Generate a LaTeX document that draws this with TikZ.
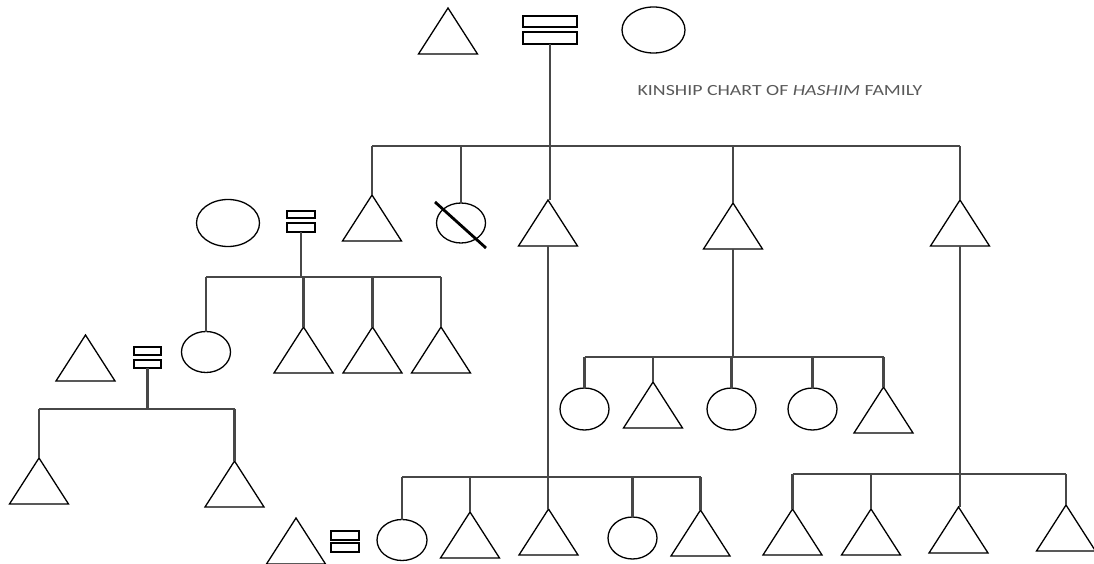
\documentclass[tikz,border=0pt]{standalone}
\usepackage{fontspec}
\newfontfamily\labelfont{Carlito}
\usetikzlibrary{shapes.geometric}
\tikzset{
  tri/.style={draw=black, line width=1.3pt, isosceles triangle, isosceles triangle stretches,
    shape border rotate=90, minimum width=59pt, minimum height=46pt, inner sep=0pt, outer sep=0pt, anchor=apex},
  circ/.style={draw=black, line width=1.3pt, ellipse, minimum width=49pt, minimum height=41pt, inner sep=0pt, outer sep=0pt},
  bigcirc/.style={circ, minimum width=63pt, minimum height=46pt},
  eqbar/.style={draw=black, line width=2.1pt, rectangle, inner sep=0pt, outer sep=0pt},
  conn/.style={draw=black!72, line width=2.8pt},
  slash/.style={draw=black, line width=2.8pt}
}
\begin{document}
\begin{tikzpicture}[x=1pt,y=-1pt]
\useasboundingbox (0,0) rectangle (1094,564);
% generation 1
\node[tri] (tA) at (448,8) {};
\node[eqbar, minimum width=54pt, minimum height=11pt] (eq0a) at (550,21.5) {};
\node[eqbar, minimum width=54pt, minimum height=12pt] (eq0b) at (550,38) {};
\node[bigcirc] (c0) at (653.5,30) {};
\node[font=\labelfont\fontsize{15.5}{18}\selectfont, text=black!65, xscale=1.28] (title) at (780,91) {KINSHIP CHART OF \textit{HASHIM} FAMILY};
\coordinate (b1) at (0,146);
% generation 2
\node[tri] (g1) at (372,195) {};
\node[circ, minimum height=40pt] (g2) at (461,223) {};
\coordinate (s1) at (435,202);
\coordinate (s2) at (486,248);
\node[tri] (g3) at (548,200) {};
\node[tri] (g4) at (733,203) {};
\node[tri] (g5) at (960,200) {};
% left family
\node[bigcirc, minimum height=47pt] (lw) at (228,223) {};
\node[eqbar, minimum width=28pt, minimum height=7.5pt] (eq1a) at (301,214.5) {};
\node[eqbar, minimum width=28pt, minimum height=9pt] (eq1b) at (301,227.5) {};
\coordinate (b2) at (0,277);
\node[circ] (l1) at (206,352) {};
\node[tri] (l2) at (303.5,327) {};
\node[tri] (l3) at (372.5,327) {};
\node[tri] (l4) at (441,327) {};
% far left family
\node[tri] (ft) at (85.5,335) {};
\node[eqbar, minimum width=27pt, minimum height=8pt] (eq2a) at (147.5,351) {};
\node[eqbar, minimum width=27pt, minimum height=8pt] (eq2b) at (147.5,364) {};
\coordinate (b3) at (0,409);
\node[tri] (f1) at (39,458) {};
\node[tri] (f2) at (234.5,461) {};
% middle branch
\coordinate (b4) at (0,477);
\node[circ, minimum width=50pt] (m1) at (402,540) {};
\node[tri] (m2) at (470,512) {};
\node[tri] (m3) at (548.5,509) {};
\node[circ, minimum height=42pt] (m4) at (632.5,538) {};
\node[tri] (m5) at (700.5,510) {};
\node[tri] (ms) at (296,518) {};
\node[eqbar, minimum width=28pt, minimum height=9pt] (eq3a) at (345,535.5) {};
\node[eqbar, minimum width=28pt, minimum height=9pt] (eq3b) at (345,547.5) {};
% branch g4
\coordinate (b5) at (0,357);
\node[circ, minimum height=42pt] (n1) at (584.5,409) {};
\node[tri] (n2) at (653,382) {};
\node[circ, minimum height=42pt] (n3) at (731.5,409) {};
\node[circ, minimum height=42pt] (n4) at (812.5,409) {};
\node[tri] (n5) at (883.5,387) {};
% branch g5
\coordinate (b6) at (0,474);
\node[tri] (p1) at (792.5,509) {};
\node[tri] (p2) at (871,509) {};
\node[tri] (p3) at (958.5,507) {};
\node[tri] (p4) at (1066,505) {};
% connectors
\draw[conn] (eq0b.south) -- (eq0b.south |- g3.apex);
\draw[conn] (g1.apex |- b1) -- (g5.apex |- b1);
\draw[conn] (g1.apex) -- (g1.apex |- b1);
\draw[conn] (g2.north) -- (g2.north |- b1);
\draw[conn] (g4.apex) -- (g4.apex |- b1);
\draw[conn] (g5.apex) -- (g5.apex |- b1);
\draw[slash] (s1) -- (s2);
% left family
\draw[conn] (eq1b.south) -- (eq1b.south |- b2);
\draw[conn] (l1.north |- b2) -- (l4.apex |- b2);
\draw[conn] (l1.north) -- (l1.north |- b2);
\draw[conn] (l2.apex) -- (l2.apex |- b2);
\draw[conn] (l3.apex) -- (l3.apex |- b2);
\draw[conn] (l4.apex) -- (l4.apex |- b2);
% far left family
\draw[conn] (eq2b.south) -- (eq2b.south |- b3);
\draw[conn] (f1.apex |- b3) -- (f2.apex |- b3);
\draw[conn] (f1.apex) -- (f1.apex |- b3);
\draw[conn] (f2.apex) -- (f2.apex |- b3);
% middle branch
\draw[conn] (g3.lower side) -- (g3.lower side |- m3.apex);
\draw[conn] (m1.north |- b4) -- (m5.apex |- b4);
\draw[conn] (m1.north) -- (m1.north |- b4);
\draw[conn] (m2.apex) -- (m2.apex |- b4);
\draw[conn] (m4.north) -- (m4.north |- b4);
\draw[conn] (m5.apex) -- (m5.apex |- b4);
% branch g4
\draw[conn] (g4.lower side) -- (g4.lower side |- b5);
\draw[conn] (n1.north |- b5) -- (n5.apex |- b5);
\draw[conn] (n1.north) -- (n1.north |- b5);
\draw[conn] (n2.apex) -- (n2.apex |- b5);
\draw[conn] (n3.north) -- (n3.north |- b5);
\draw[conn] (n4.north) -- (n4.north |- b5);
\draw[conn] (n5.apex) -- (n5.apex |- b5);
% branch g5
\draw[conn] (g5.lower side) -- (g5.lower side |- p3.apex);
\draw[conn] (p1.apex |- b6) -- (p4.apex |- b6);
\draw[conn] (p1.apex) -- (p1.apex |- b6);
\draw[conn] (p2.apex) -- (p2.apex |- b6);
\draw[conn] (p4.apex) -- (p4.apex |- b6);
\end{tikzpicture}
\end{document}
